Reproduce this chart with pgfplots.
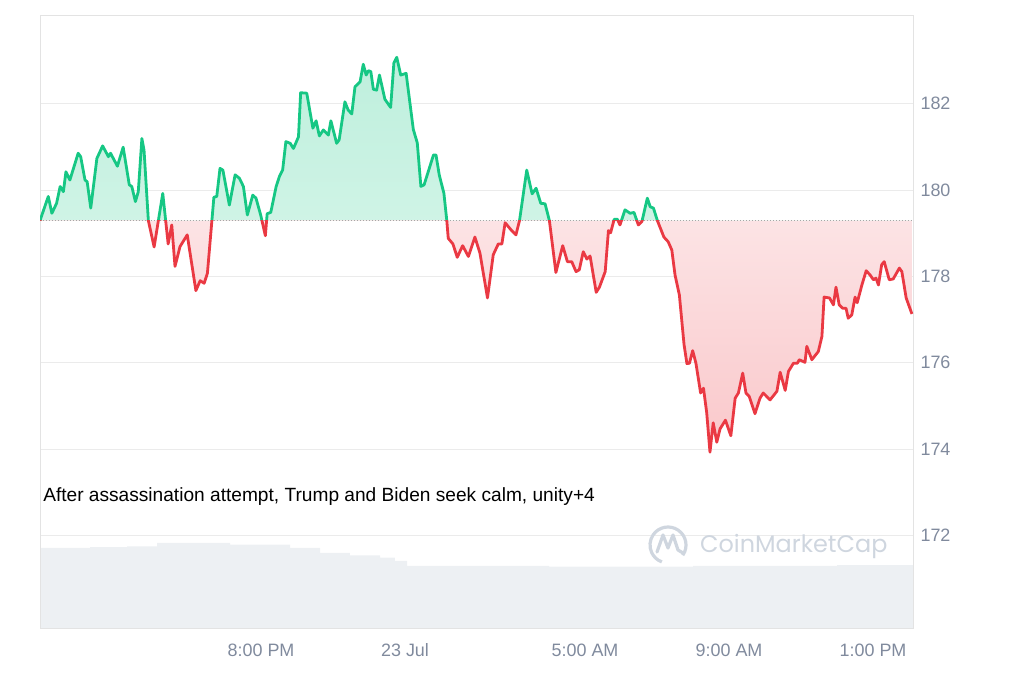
\documentclass[border=0pt]{standalone}
\usepackage{fontspec}
\setmainfont{Liberation Sans}
\newfontfamily\cmcfont{Poppins}
\usepackage{pgfplots}
\usepackage{pgfplotstable}
\pgfplotsset{compat=1.18}

\definecolor{up}{HTML}{16C784}
\definecolor{down}{HTML}{EA3943}
\definecolor{ticktext}{HTML}{808A9D}
\definecolor{gridc}{HTML}{EBEBEB}
\definecolor{framec}{HTML}{E3E3E3}
\definecolor{volc}{HTML}{EDF0F3}
\definecolor{wm}{HTML}{CFD6DF}

% hours from 00:00 on 23 Jul, price in USD
\pgfplotstableread{
t price
-10.14 179.29
-9.91 179.85
-9.81 179.46
-9.68 179.69
-9.58 180.08
-9.49 179.96
-9.42 180.42
-9.31 180.23
-9.08 180.85
-9.01 180.77
-8.89 180.23
-8.83 180.19
-8.73 179.58
-8.56 180.73
-8.40 181.02
-8.24 180.77
-8.18 180.85
-7.99 180.55
-7.83 180.99
-7.66 180.12
-7.59 180.08
-7.49 179.73
-7.41 179.96
-7.31 181.19
-7.25 180.92
-7.13 179.29
-6.97 178.68
-6.73 179.92
-6.58 178.75
-6.48 179.19
-6.39 178.23
-6.25 178.69
-6.05 178.96
-5.81 177.67
-5.69 177.90
-5.58 177.84
-5.49 178.07
-5.31 179.83
-5.23 179.85
-5.14 180.50
-5.06 180.46
-4.88 179.65
-4.72 180.35
-4.60 180.27
-4.49 180.08
-4.38 179.42
-4.23 179.88
-4.14 179.81
-4.01 179.42
-3.88 178.94
-3.83 179.45
-3.73 179.48
-3.58 180.08
-3.49 180.31
-3.40 180.46
-3.31 181.12
-3.19 181.08
-3.10 180.96
-2.96 181.23
-2.90 182.25
-2.73 182.24
-2.56 181.43
-2.47 181.60
-2.38 181.25
-2.27 181.39
-2.13 181.27
-2.06 181.60
-1.90 181.08
-1.83 181.16
-1.67 182.04
-1.58 181.85
-1.48 181.76
-1.39 182.39
-1.25 182.50
-1.16 182.91
-1.08 182.66
-1.02 182.76
-0.95 182.74
-0.88 182.33
-0.79 182.31
-0.71 182.66
-0.56 182.10
-0.40 181.91
-0.31 182.94
-0.23 183.07
-0.12 182.66
0.03 182.70
0.23 181.40
0.34 181.09
0.44 180.08
0.53 180.12
0.79 180.81
0.86 180.81
0.95 180.35
1.08 179.92
1.16 179.29
1.20 178.88
1.33 178.75
1.45 178.44
1.60 178.71
1.76 178.46
1.94 178.91
2.08 178.54
2.29 177.50
2.45 178.50
2.59 178.75
2.69 178.75
2.78 179.24
2.94 179.08
3.08 178.96
3.18 179.29
3.38 180.46
3.53 179.91
3.64 180.04
3.77 179.69
3.89 179.68
4.01 179.29
4.19 178.09
4.38 178.71
4.51 178.34
4.63 178.34
4.75 178.11
4.84 178.15
4.95 178.57
5.05 178.40
5.14 178.47
5.31 177.63
5.40 177.75
5.56 178.11
5.65 179.06
5.71 179.01
5.81 179.32
5.90 179.32
5.97 179.19
6.11 179.54
6.25 179.46
6.36 179.48
6.48 179.19
6.58 179.27
6.73 179.81
6.81 179.61
6.90 179.58
7.01 179.29
7.19 178.91
7.31 178.80
7.41 178.61
7.50 178.03
7.62 177.57
7.75 176.42
7.83 175.98
7.90 175.99
7.99 176.28
8.08 175.99
8.21 175.30
8.29 175.41
8.38 174.84
8.47 173.93
8.56 174.61
8.66 174.16
8.75 174.47
8.90 174.67
9.05 174.31
9.17 175.18
9.26 175.30
9.38 175.76
9.47 175.30
9.56 175.22
9.72 174.82
9.86 175.18
9.95 175.30
10.14 175.14
10.33 175.34
10.42 175.78
10.56 175.36
10.65 175.80
10.79 175.99
10.90 175.99
10.95 176.07
11.11 176.01
11.16 176.38
11.30 176.07
11.48 176.26
11.58 176.61
11.64 177.52
11.79 177.50
11.90 177.34
11.97 177.75
12.06 177.34
12.16 177.26
12.25 177.26
12.31 177.03
12.41 177.11
12.50 177.52
12.56 177.39
12.69 177.80
12.81 178.13
12.92 178.03
13.01 177.92
13.08 177.96
13.15 177.80
13.24 178.27
13.31 178.34
13.45 177.92
13.56 177.94
13.73 178.19
13.80 178.11
13.92 177.50
14.08 177.13
}\price

% volume, arbitrary units
\pgfplotstableread{
t vol
-10.14 0.98
-8.75 0.99
-7.72 1.00
-6.89 1.04
-4.86 1.02
-3.19 0.98
-2.36 0.92
-1.53 0.89
-0.69 0.86
-0.28 0.82
0.06 0.76
4.00 0.75
8.00 0.76
12.00 0.77
14.11 0.77
}\volume

\pgfplotsset{
  cmc/.style={
    at={(40bp,55bp)}, anchor=south west,
    scale only axis, width=873bp, height=613bp,
    xmin=-10.14, xmax=14.11,
  }
}

\begin{document}
\begin{tikzpicture}
\path (0,0) rectangle (1024bp,683bp);

% volume underlay
\begin{axis}[cmc, ymin=0, ymax=7.5, hide axis]
\addplot[const plot, draw=none, fill=volc] table[x=t, y=vol] {\volume} \closedcycle;
\end{axis}

\begin{axis}[cmc,
  ymin=169.86, ymax=184.05,
  axis line style={framec, line width=0.8bp},
  ytick={172,174,...,182},
  xtick={-4,0,5,9,13},
  xticklabels={{8:00 PM},{23 Jul},{5:00 AM},{9:00 AM},{1:00 PM}},
  major tick length=0pt,
  ymajorgrids, grid style={gridc, line width=0.8bp},
  yticklabel pos=right,
  xticklabel pos=bottom,
  /pgf/number format/assume math mode=true,
  tick label style={font=\fontsize{18}{20}\selectfont, text=ticktext},
  yticklabel style={anchor=west, xshift=4bp},
  xticklabel style={yshift=-12bp},
]
% area above the opening price
\begin{scope}
\clip (axis cs:-11,179.29) rectangle (axis cs:15,185);
\addplot[draw=none, top color={up!28!white}, bottom color={up!10!white}] table[x=t, y=price] {\price}
  -- (axis cs:14.08,179.29) -- (axis cs:-10.14,179.29) -- cycle;
\end{scope}
% area below the opening price
\begin{scope}
\clip (axis cs:-11,160) rectangle (axis cs:15,179.29);
\addplot[draw=none, top color={down!4!white}, bottom color={down!28!white}] table[x=t, y=price] {\price}
  -- (axis cs:14.08,179.29) -- (axis cs:-10.14,179.29) -- cycle;
\end{scope}

\addplot[gray!70, dotted, line width=1bp] coordinates {(-10.14,179.29) (14.11,179.29)};

\begin{scope}
\clip (axis cs:-11,179.29) rectangle (axis cs:15,185);
\addplot[up, line width=2.8bp, line join=round] table[x=t, y=price] {\price};
\end{scope}
\begin{scope}
\clip (axis cs:-11,160) rectangle (axis cs:15,179.29);
\addplot[down, line width=2.8bp, line join=round] table[x=t, y=price] {\price};
\end{scope}

\node[anchor=west, inner sep=0pt, font=\fontsize{19.2}{22}\selectfont]
  at (rel axis cs:0.0035,0.2137) {After assassination attempt, Trump and Biden seek calm, unity+4};
\end{axis}

% watermark
\draw[wm, line width=3.2bp] (668bp,138bp) ++(-35:18bp) arc[start angle=-35, end angle=250, radius=18bp];
\draw[wm, line width=3.2bp, line join=round, line cap=round]
  (657bp,131bp) -- (663bp,148bp) -- (668bp,135bp) -- (673bp,148bp) -- (678bp,133bp) -- (683bp,130bp);
\node[anchor=west, inner sep=0pt, text=wm, font=\cmcfont\fontsize{24}{26}\selectfont] at (700bp,136bp) {CoinMarketCap};
\end{tikzpicture}
\end{document}
